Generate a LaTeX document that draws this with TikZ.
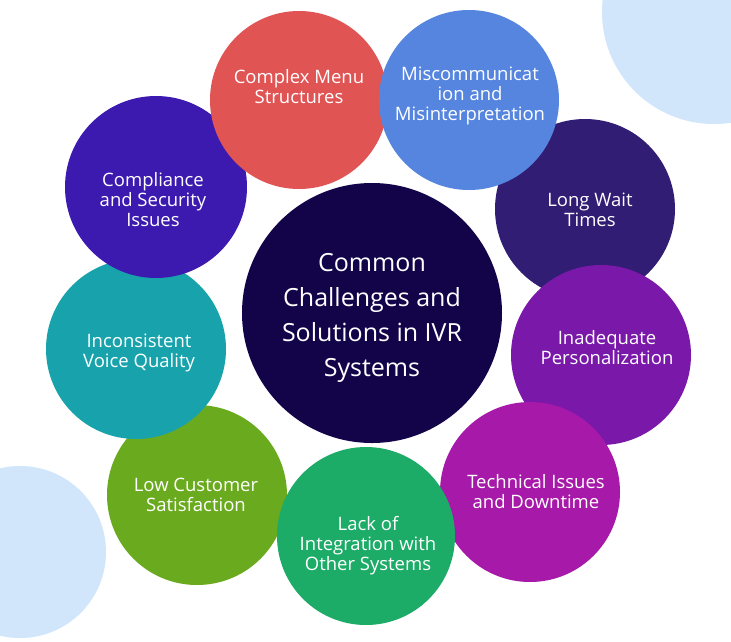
\documentclass[tikz,border=0pt]{standalone}
\usepackage{fontspec}
\setmainfont{Open Sans}
\definecolor{cred}{HTML}{E05454}
\definecolor{cblue}{HTML}{5585DE}
\definecolor{ccomp}{HTML}{3D1AAF}
\definecolor{cwait}{HTML}{311D73}
\definecolor{ccenter}{HTML}{13044A}
\definecolor{cteal}{HTML}{18A3AC}
\definecolor{cinad}{HTML}{7A18A9}
\definecolor{clow}{HTML}{6AAA1E}
\definecolor{clack}{HTML}{1DAB68}
\definecolor{ctech}{HTML}{A719A8}
\definecolor{clight}{HTML}{D1E5FB}
\tikzset{
  bub/.style={circle, draw=none, inner sep=0pt, minimum size=#1},
  txt/.style={text=white, align=center, inner sep=0pt, font=\fontsize{18.5}{20}\selectfont},
  bigtxt/.style={text=white, align=center, inner sep=0pt, font=\fontsize{25}{35}\selectfont},
}
\begin{document}
\begin{tikzpicture}[x=1pt,y=-1pt]
\useasboundingbox (0,0) rectangle (731,641);
\fill[white] (0,0) rectangle (731,641);
% decorative background circles
\node[bub=224, fill=clight] (deco1) at (714,12) {};
\node[bub=172, fill=clight] (deco2) at (20,552) {};
% bubbles in stacking order
\node[bub=180, fill=cwait] (wait) at (585,209) {};
\node[bub=180, fill=cinad] (inad) at (601,355) {};
\node[bub=180, fill=ctech] (tech) at (530,492) {};
\node[bub=180, fill=clow] (low) at (197,495) {};
\node[bub=178, fill=clack] (lack) at (366,536) {};
\node[bub=180, fill=cteal] (teal) at (136,349) {};
\node[bub=182, fill=ccomp] (comp) at (156,187) {};
\node[bub=178, fill=cred] (red) at (299,100) {};
\node[bub=180, fill=cblue] (blue) at (469,100) {};
\node[bub=260, fill=ccenter] (center) at (372,313) {};
% texts
\node[txt] (tred) at (299,87) {Complex Menu\\Structures};
\node[txt] (tblue) at (470,96) {Miscommunicat\\ion and\\Misinterpretation};
\node[txt] (tcomp) at (153,200) {Compliance\\and Security\\Issues};
\node[txt] (twait) at (590,210) {Long Wait\\Times};
\node[txt] (tinad) at (607,348) {Inadequate\\Personalization};
\node[txt] (tteal) at (139,353) {Inconsistent\\Voice Quality};
\node[txt] (tlow) at (196,495) {Low Customer\\Satisfaction};
\node[txt] (tlack) at (368,546) {Lack of\\Integration with\\Other Systems};
\node[txt] (ttech) at (536,492) {Technical Issues\\and Downtime};
\node[bigtxt] (tcenter) at (372,318) {Common\\Challenges and\\Solutions in IVR\\Systems};
\end{tikzpicture}
\end{document}
